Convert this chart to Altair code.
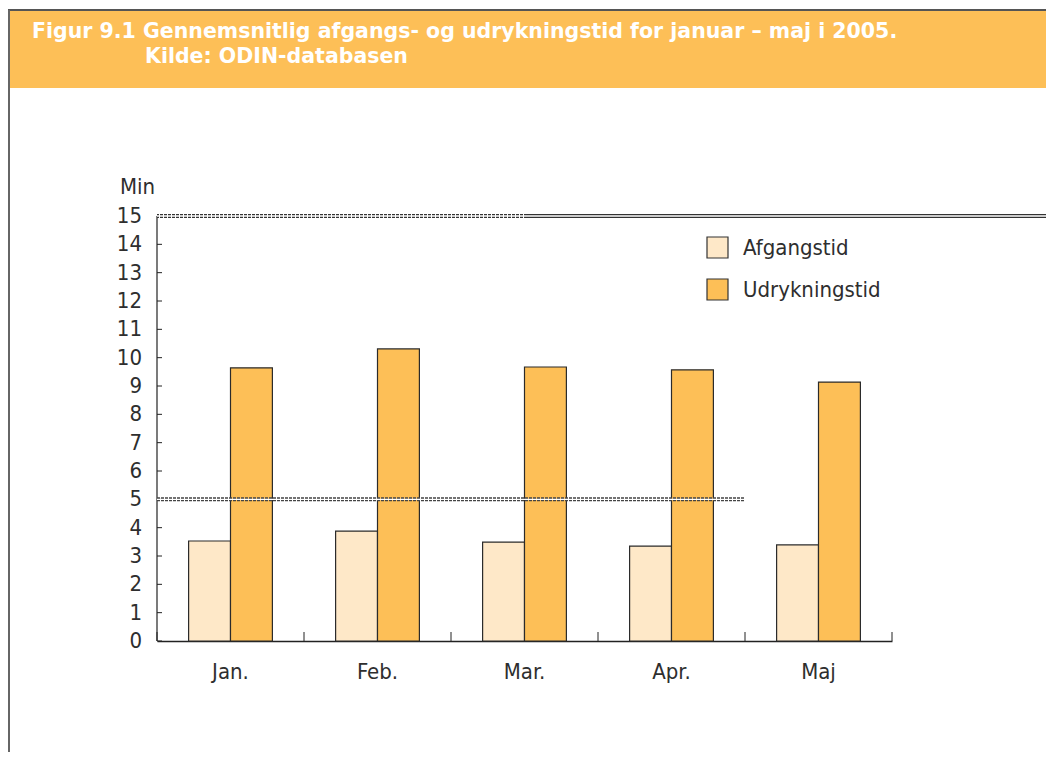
import altair as alt
import pandas as pd

months = ["Jan.", "Feb.", "Mar.", "Apr.", "Maj"]
afgangstid = [3.53, 3.88, 3.49, 3.35, 3.39]
udrykningstid = [9.64, 10.31, 9.67, 9.57, 9.14]
series = ["Afgangstid", "Udrykningstid"]
colors = ["#FEE8C8", "#FDBF57"]
y_ticks = list(range(0, 16))
boundaries = [0, 1, 2, 3, 4, 5]
title_line1 = "Figur 9.1 Gennemsnitlig afgangs- og udrykningstid for januar – maj i 2005."
title_line2 = "Kilde: ODIN-databasen"
y_unit = "Min"

rows = []
for m, a, u in zip(months, afgangstid, udrykningstid):
    rows.append({"Måned": m, "Serie": series[0], "Min": a})
    rows.append({"Måned": m, "Serie": series[1], "Min": u})
df = pd.DataFrame(rows)

W, H = 735, 425
FONT = "DejaVu Sans Condensed, Liberation Sans Narrow, sans-serif"
TXT = "#2e2e2e"
yscale = alt.Scale(domain=[0, 15], nice=False)

bars = alt.Chart(df).mark_bar(stroke="#2b2b2b", strokeWidth=1.2).encode(
    x=alt.X("Måned:N", sort=months,
            scale=alt.Scale(paddingInner=0.43, paddingOuter=0.215),
            axis=alt.Axis(title=None, labelFontSize=22, labelFont=FONT, labelColor=TXT,
                          labelPadding=20, ticks=False, domainColor="#222", domainWidth=1.5,
                          labelAngle=0)),
    xOffset=alt.XOffset("Serie:N", sort=series, scale=alt.Scale(paddingInner=0, paddingOuter=0)),
    y=alt.Y("Min:Q", scale=yscale, axis=None),
    color=alt.Color("Serie:N", scale=alt.Scale(domain=series, range=colors),
                    legend=alt.Legend(title=None, orient="none", legendX=549, legendY=20,
                                      symbolType="square", symbolSize=441, symbolStrokeColor="#333",
                                      symbolStrokeWidth=1.2, symbolOpacity=1, labelFontSize=22,
                                      labelFont=FONT, labelColor=TXT, labelOffset=14,
                                      rowPadding=15, padding=0)),
)

ytick_df = pd.DataFrame({"Min": y_ticks})
yticks = alt.Chart(ytick_df).mark_rule(color="#222", strokeWidth=1).encode(
    y=alt.Y("Min:Q", axis=None), x=alt.value(0), x2=alt.value(5))
ylabels = alt.Chart(ytick_df).mark_text(align="right", baseline="middle", font=FONT,
                                        fontSize=22, color=TXT).encode(
    y=alt.Y("Min:Q", axis=None), x=alt.value(-15), text="Min:Q")
ydomain = alt.Chart().mark_rule(color="#222", strokeWidth=1.2).encode(
    x=alt.value(0), y=alt.value(0), y2=alt.value(H))

xtick_df = pd.DataFrame({"b": boundaries})
xticks = alt.Chart(xtick_df).mark_rule(color="#222", strokeWidth=1).encode(
    x=alt.X("b:Q", scale=alt.Scale(domain=[0, 5], nice=False), axis=None),
    y=alt.value(H - 9), y2=alt.value(H))

# reference lines at 15 and 5
l15a = alt.Chart().mark_rule(color="#333", strokeWidth=4).encode(
    y=alt.YDatum(15, axis=None), x=alt.value(0), x2=alt.value(889))
l15b = alt.Chart().mark_rule(color="white", strokeWidth=1.4).encode(
    y=alt.YDatum(15, axis=None), x=alt.value(0), x2=alt.value(889))
l15c = alt.Chart().mark_rule(color="white", strokeWidth=4, strokeDash=[1, 3]).encode(
    y=alt.YDatum(15, axis=None), x=alt.value(2), x2=alt.value(368))
l5a = alt.Chart().mark_rule(color="#444", strokeWidth=4, strokeDash=[3, 1]).encode(
    y=alt.YDatum(5, axis=None), x=alt.value(0), x2=alt.value(588))
l5b = alt.Chart().mark_rule(color="white", strokeWidth=1.4).encode(
    y=alt.YDatum(5, axis=None), x=alt.value(0), x2=alt.value(588))

banner = alt.Chart().mark_rect(color="#FDBF57").encode(
    x=alt.value(-149), x2=alt.value(889), y=alt.value(-206), y2=alt.value(-128))
top_border = alt.Chart().mark_rule(color="#555", strokeWidth=2).encode(
    x=alt.value(-149), x2=alt.value(889), y=alt.value(-206))
left_border = alt.Chart().mark_rule(color="#666", strokeWidth=2).encode(
    x=alt.value(-148), y=alt.value(-206), y2=alt.value(536))

t1 = alt.Chart().mark_text(text=title_line1, align="left", baseline="middle", color="white",
                           font="DejaVu Sans", fontWeight="bold", fontSize=20.5).encode(
    x=alt.value(-125), y=alt.value(-184))
t2 = alt.Chart().mark_text(text=title_line2, align="left", baseline="middle", color="white",
                           font="DejaVu Sans", fontWeight="bold", fontSize=20.5).encode(
    x=alt.value(-12), y=alt.value(-159))
tmin = alt.Chart().mark_text(text=y_unit, align="left", baseline="middle", color=TXT,
                             font=FONT, fontSize=22).encode(
    x=alt.value(-37), y=alt.value(-29))

chart = alt.layer(
    banner, top_border, left_border, t1, t2, tmin,
    bars, yticks, ylabels, ydomain, l15a, l15b, l15c, l5a, l5b, xticks
).resolve_scale(x="independent").properties(
    width=W, height=H,
    autosize=alt.AutoSizeParams(type="none"),
    padding={"left": 149, "top": 208, "right": 154, "bottom": 111},
).configure_view(stroke=None)

chart.save("out.html", embed_options={"renderer": "svg", "actions": False})
